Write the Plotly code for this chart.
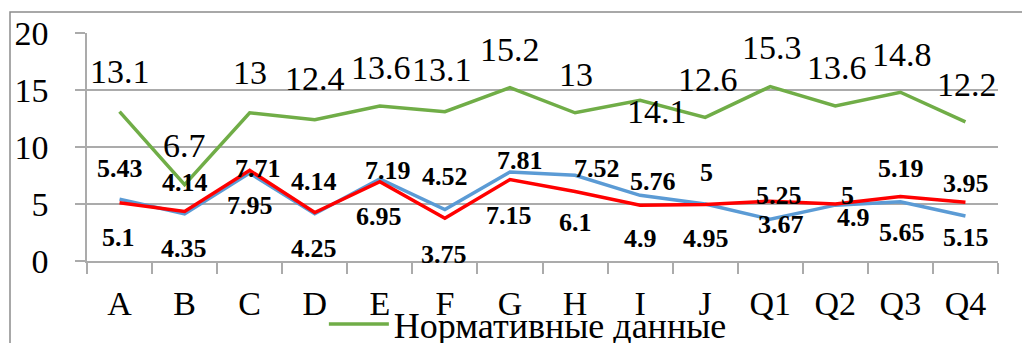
import plotly.graph_objects as go

categories = ["A", "B", "C", "D", "E", "F", "G", "H", "I", "J", "Q1", "Q2", "Q3", "Q4"]
normative = [13.1, 6.7, 13, 12.4, 13.6, 13.1, 15.2, 13, 14.1, 12.6, 15.3, 13.6, 14.8, 12.2]
series_blue = [5.43, 4.14, 7.71, 4.14, 7.19, 4.52, 7.81, 7.52, 5.76, 5, 3.67, 4.9, 5.19, 3.95]
series_red = [5.1, 4.35, 7.95, 4.25, 6.95, 3.75, 7.15, 6.1, 4.9, 4.95, 5.25, 5, 5.65, 5.15]
legend_name = "Нормативные данные"

# label pixel offsets (dx, dy; dy positive = up) as placed in the original
green_off = [(0.5, 40), (-0.5, 39), (0.5, 40), (0, 41), (1.5, 38.5), (-2.5, 42), (0.5, 38),
             (0.5, 38), (16.5, -11), (2.5, 38), (1.5, 39), (1.5, 38.5), (1.5, 38), (1.5, 37.5)]
blue_off = [(0, 31), (0, 31), (8, 5), (-1, 32), (8, 8.5), (0, 33), (10, 11), (22, 7),
            (13, 14), (1.5, 31.5), (11, -5), (18, -12.5), (0.5, 33), (0.5, 32.5)]
red_off = [(-1, -34.5), (-0.5, -37), (0.5, -35.6), (-0.5, -36), (-1, -34.7), (-0.5, -36),
           (-0.5, -36.5), (0.5, -31), (0, -33.5), (0.5, -34), (9, 6), (12, 9), (1.5, -36), (0.5, -35)]

SERIF = "Liberation Serif, Times New Roman, DejaVu Serif, serif"
GRID = "#ababab"

fig = go.Figure()
fig.add_trace(go.Scatter(x=categories, y=normative, mode="lines", name=legend_name,
                         line=dict(color="#70AD47", width=3.5)))
fig.add_trace(go.Scatter(x=categories, y=series_blue, mode="lines", name="Ряд 2", showlegend=False,
                         line=dict(color="#5B9BD5", width=3.5)))
fig.add_trace(go.Scatter(x=categories, y=series_red, mode="lines", name="Ряд 3", showlegend=False,
                         line=dict(color="#FF0000", width=3.5)))

annotations = []
def fmt(v):
    return f"{v:g}"

for vals, offs, bold, size in [(normative, green_off, False, 34),
                               (series_blue, blue_off, True, 26),
                               (series_red, red_off, True, 26)]:
    for c, v, (dx, dy) in zip(categories, vals, offs):
        annotations.append(dict(
            x=c, y=v, xref="x", yref="y", text=(f"<b>{fmt(v)}</b>" if bold else fmt(v)),
            showarrow=False, xanchor="center", yanchor="middle", xshift=dx, yshift=dy,
            font=dict(family=SERIF, size=size, color="black")))

fig.update_layout(
    width=1022, height=343,
    margin=dict(l=87, r=24, t=33, b=82, autoexpand=False),
    paper_bgcolor="white", plot_bgcolor="white",
    font=dict(family=SERIF, color="black"),
    annotations=annotations,
    showlegend=True,
    legend=dict(orientation="h", x=0.26, xanchor="left", y=-0.145, yanchor="top",
                font=dict(family=SERIF, size=36, color="black"),
                bgcolor="rgba(0,0,0,0)", itemwidth=60),
    shapes=[dict(type="rect", xref="paper", yref="paper",
                 x0=(10 - 87) / 911, x1=(1040 - 87) / 911,
                 y0=(261 - 380) / 228, y1=(261 - 12) / 228,
                 line=dict(color="#8c8c8c", width=1.5), fillcolor="rgba(0,0,0,0)",
                 layer="below")],
)
fig.update_xaxes(type="category", range=[-0.5, 13.5], showgrid=False,
                 showline=True, linecolor=GRID, linewidth=1.5,
                 ticks="outside", tickson="boundaries", ticklen=11, tickcolor=GRID, tickwidth=1.5,
                 tickfont=dict(family=SERIF, size=34, color="black"), ticklabelstandoff=11)
fig.update_yaxes(range=[0, 20], dtick=5, tick0=0, showgrid=True, gridcolor=GRID, gridwidth=1.5,
                 showline=True, linecolor=GRID, linewidth=1.5, zeroline=False,
                 ticks="outside", ticklen=10, tickcolor=GRID, tickwidth=1.5,
                 tickfont=dict(family=SERIF, size=34, color="black"), ticklabelstandoff=20)

fig.write_html("out.html", config={"displayModeBar": False},
               post_script="document.body.style.margin='0';document.body.style.overflow='hidden';")
